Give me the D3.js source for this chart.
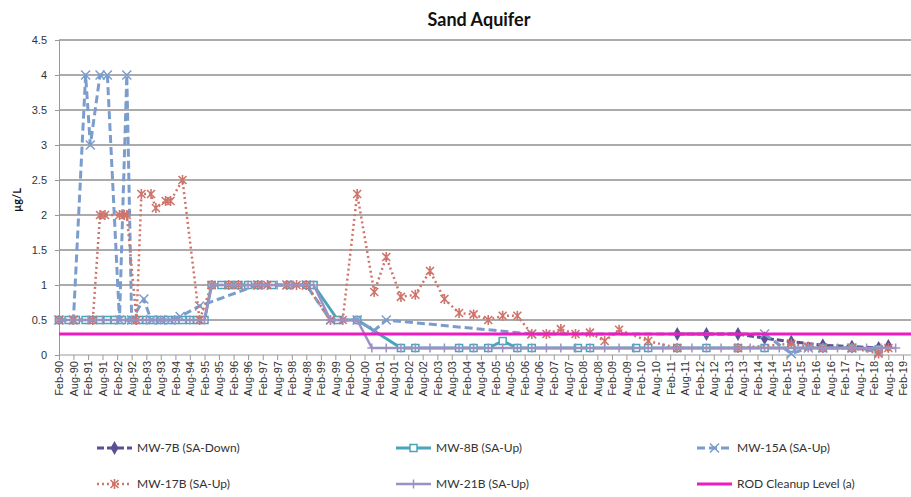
<!DOCTYPE html>
<html>
<head>
<meta charset="utf-8">
<script src="https://cdn.jsdelivr.net/npm/d3@7"></script>
<style>
body { margin: 0; background: #fff; }
svg { font-family: Lato, "Open Sans", sans-serif; }
</style>
</head>
<body>
<svg class="chart" width="911" height="497"></svg>
<script>
"use strict";

// sample dates (yyyy-mm) and concentrations in ug/L
var mw7b = [["2011-05", 0.3], ["2012-05", 0.3], ["2013-06", 0.3], ["2014-05", 0.24], ["2015-04", 0.19],
    ["2016-05", 0.14], ["2017-05", 0.12], ["2018-04", 0.1], ["2018-08", 0.13]];

var mw8b = [["1990-02", 0.5], ["1990-06", 0.5], ["1990-09", 0.5], ["1991-01", 0.5], ["1991-04", 0.5],
    ["1991-07", 0.5], ["1991-10", 0.5], ["1992-01", 0.5], ["1992-04", 0.5], ["1992-08", 0.5],
    ["1992-11", 0.5], ["1993-02", 0.5], ["1993-05", 0.5], ["1993-08", 0.5], ["1993-11", 0.5],
    ["1994-02", 0.5], ["1994-05", 0.5], ["1994-08", 0.5], ["1994-11", 0.5], ["1995-02", 0.5],
    ["1995-05", 1], ["1995-09", 1], ["1995-12", 1], ["1996-04", 1], ["1996-08", 1], ["1996-12", 1],
    ["1997-06", 1], ["1998-01", 1], ["1998-08", 1], ["1998-11", 1], ["1999-09", 0.5], ["2000-05", 0.5],
    ["2001-11", 0.1], ["2002-05", 0.1], ["2003-11", 0.1], ["2004-05", 0.1], ["2004-11", 0.1],
    ["2005-05", 0.2], ["2005-11", 0.1], ["2006-05", 0.1], ["2007-12", 0.1], ["2008-05", 0.1],
    ["2009-12", 0.1], ["2010-05", 0.1], ["2011-05", 0.1], ["2012-05", 0.1], ["2013-06", 0.1],
    ["2014-05", 0.1], ["2015-04", 0.1], ["2016-05", 0.1], ["2017-05", 0.1], ["2018-04", 0.08]];

var mw15a = [["1990-02", 0.5], ["1990-08", 0.5], ["1991-01", 4], ["1991-03", 3], ["1991-07", 4],
    ["1991-10", 4], ["1992-03", 0.5], ["1992-06", 4], ["1992-08", 0.5], ["1993-01", 0.8],
    ["1993-04", 0.5], ["1993-08", 0.5], ["1993-12", 0.5], ["1994-04", 0.55], ["1994-12", 0.7],
    ["1996-12", 1], ["1997-12", 1], ["1998-08", 1], ["1999-06", 0.5], ["2000-05", 0.5],
    ["2000-12", 0.35], ["2001-05", 0.5], ["2006-05", 0.3], ["2014-05", 0.3], ["2015-04", 0.02],
    ["2015-11", 0.1], ["2016-05", 0.1], ["2017-05", 0.1], ["2018-04", 0.05]];

var mw17b = [["1990-02", 0.5], ["1990-08", 0.5], ["1991-04", 0.5], ["1991-07", 2], ["1991-09", 2],
    ["1992-03", 2], ["1992-05", 2], ["1992-06", 2], ["1992-10", 0.5], ["1992-12", 2.3],
    ["1993-04", 2.3], ["1993-06", 2.1], ["1993-10", 2.2], ["1993-12", 2.2], ["1994-05", 2.5],
    ["1994-12", 0.5], ["1995-05", 1], ["1995-12", 1], ["1996-04", 1], ["1996-12", 1], ["1997-04", 1],
    ["1997-12", 1], ["1998-04", 1], ["1998-08", 1], ["1999-06", 0.5], ["1999-11", 0.5],
    ["2000-05", 2.3], ["2000-12", 0.9], ["2001-05", 1.4], ["2001-11", 0.83], ["2002-05", 0.86],
    ["2002-11", 1.2], ["2003-05", 0.8], ["2003-11", 0.6], ["2004-05", 0.58], ["2004-11", 0.5],
    ["2005-05", 0.56], ["2005-11", 0.56], ["2006-05", 0.3], ["2006-11", 0.3], ["2007-05", 0.37],
    ["2007-11", 0.3], ["2008-05", 0.32], ["2008-11", 0.2], ["2009-05", 0.36], ["2010-05", 0.2],
    ["2011-05", 0.1], ["2013-06", 0.1], ["2015-04", 0.16], ["2015-11", 0.12], ["2016-05", 0.1],
    ["2017-05", 0.1], ["2018-04", 0.02], ["2018-08", 0.1]];

var mw21b = [["1990-02", 0.5], ["1990-08", 0.5], ["1991-02", 0.5], ["1991-08", 0.5], ["1992-02", 0.5],
    ["1992-08", 0.5], ["1993-02", 0.5], ["1993-08", 0.5], ["1994-02", 0.5], ["1994-08", 0.5],
    ["1995-02", 0.5], ["1995-05", 1], ["1996-02", 1], ["1996-08", 1], ["1997-02", 1], ["1997-08", 1],
    ["1998-02", 1], ["1998-11", 1], ["1999-06", 0.5], ["1999-11", 0.5], ["2000-05", 0.5],
    ["2000-11", 0.1], ["2001-05", 0.1], ["2001-11", 0.1], ["2002-05", 0.1], ["2002-11", 0.1],
    ["2003-05", 0.1], ["2003-11", 0.1], ["2004-05", 0.1], ["2004-11", 0.1], ["2005-05", 0.1],
    ["2005-11", 0.1], ["2006-05", 0.1], ["2006-11", 0.1], ["2007-05", 0.1], ["2007-11", 0.1],
    ["2008-05", 0.1], ["2008-11", 0.1], ["2009-05", 0.1], ["2009-11", 0.1], ["2010-05", 0.1],
    ["2010-11", 0.1], ["2011-05", 0.1], ["2011-11", 0.1], ["2012-05", 0.1], ["2012-11", 0.1],
    ["2013-05", 0.1], ["2013-11", 0.1], ["2014-05", 0.1], ["2014-11", 0.1], ["2015-05", 0.1],
    ["2015-11", 0.1], ["2016-05", 0.1], ["2016-11", 0.1], ["2017-05", 0.1], ["2017-11", 0.1],
    ["2018-05", 0.1], ["2018-11", 0.1]];

var rodLevel = [["1990-02", 0.3], ["2019-08", 0.3]];

var seriesNames = ["MW-7B (SA-Down)", "MW-8B (SA-Up)", "MW-15A (SA-Up)",
    "MW-17B (SA-Up)", "MW-21B (SA-Up)", "ROD Cleanup Level (a)"];

var yTicks = [0, 0.5, 1, 1.5, 2, 2.5, 3, 3.5, 4, 4.5];

var series = [
    { name: seriesNames[0], values: mw7b, color: "#5d4e95", width: 3, dash: "7,3", marker: "diamond" },
    { name: seriesNames[1], values: mw8b, color: "#4ba5ba", width: 3, dash: null, marker: "square" },
    { name: seriesNames[2], values: mw15a, color: "#7b9dcd", width: 3, dash: "8,4", marker: "x" },
    { name: seriesNames[3], values: mw17b, color: "#cf746b", width: 2.5, dash: "2,3", marker: "star" },
    { name: seriesNames[4], values: mw21b, color: "#9d91c3", width: 2.5, dash: null, marker: "plus" },
    { name: seriesNames[5], values: rodLevel, color: "#ee1bc0", width: 3, dash: null, marker: null }
];

var svg = d3.select("svg.chart");
var plotLeft = 59, plotTop = 40, plotBottom = 355, plotRight = 911;
var parseMonth = d3.timeParse("%Y-%m");

var x = d3.scaleTime()
    .domain([parseMonth("1990-02"), parseMonth("2019-02")])
    .range([plotLeft, 903]);
var y = d3.scaleLinear().domain([0, 4.5]).range([plotBottom, plotTop]);

// gridlines
svg.append("g").selectAll("line").data(yTicks.slice(1)).enter().append("line")
    .attr("x1", plotLeft).attr("x2", plotRight)
    .attr("y1", function (d) { return y(d); }).attr("y2", function (d) { return y(d); })
    .attr("stroke", "#8f8f8f").attr("stroke-width", 1.3);

// y axis
var yAxis = svg.append("g").attr("transform", "translate(" + plotLeft + ",0)")
    .call(d3.axisLeft(y).tickValues(yTicks).tickSize(4).tickFormat(d3.format("")));
yAxis.select(".domain").attr("stroke", "#999");
yAxis.selectAll(".tick line").attr("stroke", "#999");
yAxis.selectAll("text").attr("x", -12).attr("fill", "#333").style("font-size", "11px");

// x axis, half-yearly ticks Feb/Aug
var xTicks = d3.timeMonth.range(parseMonth("1990-02"), parseMonth("2019-03"), 6);
var xAxis = svg.append("g").attr("transform", "translate(0," + plotBottom + ")")
    .call(d3.axisBottom(x).tickValues(xTicks).tickSize(5).tickFormat(d3.timeFormat("%b-%y")));
xAxis.select(".domain").attr("d", "M" + plotLeft + ",0H" + plotRight).attr("stroke", "#999");
xAxis.selectAll(".tick line").attr("stroke", "#999");
xAxis.selectAll("text")
    .attr("transform", "rotate(-90)")
    .attr("x", -6).attr("y", 0).attr("dy", "0.35em")
    .style("text-anchor", "end").style("font-size", "11px").attr("fill", "#333");

// title and axis label
svg.append("text").attr("x", 479).attr("y", 26).attr("text-anchor", "middle")
    .style("font-size", "18px").style("font-weight", "bold").attr("fill", "#111").text("Sand Aquifer");
svg.append("text").attr("transform", "translate(21,200) rotate(-90)").attr("text-anchor", "middle")
    .style("font-size", "11px").style("font-weight", "bold").attr("fill", "#111").text("µg/L");

function drawMarker(g, type, color, cx, cy) {
    if (type === "diamond") {
        g.append("path").attr("d", d3.symbol(d3.symbolDiamond, 55)())
            .attr("transform", "translate(" + cx + "," + cy + ")").attr("fill", color);
    } else if (type === "square") {
        g.append("rect").attr("x", cx - 3.5).attr("y", cy - 3.5).attr("width", 7).attr("height", 7)
            .attr("fill", "#fff").attr("stroke", color).attr("stroke-width", 1.5);
    } else if (type === "x") {
        g.append("path").attr("d", "M-4.5,-4.5L4.5,4.5M-4.5,4.5L4.5,-4.5")
            .attr("transform", "translate(" + cx + "," + cy + ")").attr("stroke", color).attr("stroke-width", 1.5);
    } else if (type === "star") {
        g.append("path").attr("d", "M-4,-4L4,4M-4,4L4,-4M0,-5L0,5")
            .attr("transform", "translate(" + cx + "," + cy + ")").attr("stroke", color).attr("stroke-width", 1.6);
    } else if (type === "plus") {
        g.append("path").attr("d", "M-4.5,0L4.5,0M0,-4.5L0,4.5")
            .attr("transform", "translate(" + cx + "," + cy + ")").attr("stroke", color).attr("stroke-width", 1.5);
    }
}

var line = d3.line()
    .x(function (d) { return x(parseMonth(d[0])); })
    .y(function (d) { return y(d[1]); });

series.forEach(function (s) {
    var g = svg.append("g");
    g.append("path").datum(s.values).attr("d", line).attr("fill", "none")
        .attr("stroke", s.color).attr("stroke-width", s.width)
        .attr("stroke-dasharray", s.dash).attr("stroke-linejoin", "round");
    if (s.marker) {
        s.values.forEach(function (d) {
            drawMarker(g, s.marker, s.color, x(parseMonth(d[0])), y(d[1]));
        });
    }
});

// legend, 3 columns x 2 rows
var legendCols = [97, 396, 697];
var legendRows = [448, 484];
series.forEach(function (s, i) {
    var lx = legendCols[i % 3], ly = legendRows[Math.floor(i / 3)];
    var g = svg.append("g");
    g.append("line").attr("x1", lx).attr("x2", lx + 35).attr("y1", ly).attr("y2", ly)
        .attr("stroke", s.color).attr("stroke-width", s.width).attr("stroke-dasharray", s.dash);
    if (s.marker) drawMarker(g, s.marker, s.color, lx + 17.5, ly);
    g.append("text").attr("x", lx + 40).attr("y", ly).attr("dy", "0.35em")
        .style("font-size", "12px").attr("fill", "#333").text(s.name);
});
</script>
</body>
</html>
